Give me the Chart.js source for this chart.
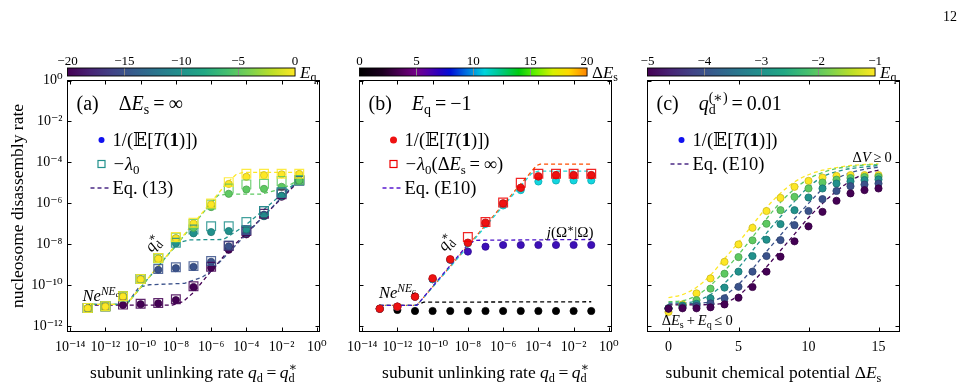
<!DOCTYPE html>
<html>
<head>
<meta charset="utf-8">
<title>nucleosome disassembly rate</title>
<script src="https://cdn.jsdelivr.net/npm/chart.js@4.4.1/dist/chart.umd.min.js"></script>
<style>
  body { margin: 0; background: #fff; }
  #fig { position: relative; width: 967px; height: 386px; overflow: hidden; background: #fff; }
  #fig canvas { position: absolute; top: 0; }
</style>
</head>
<body>
<div id="fig">
  <canvas id="panelA" width="340" height="386" style="left:0px"></canvas>
  <canvas id="panelB" width="300" height="386" style="left:330px"></canvas>
  <canvas id="panelC" width="337" height="386" style="left:630px"></canvas>
</div>
<script>
// values; rates are written as powers of ten (log10 of the rate)

// ---------- (a)  Delta E_s = infinity, one series per E_q ----------
const qA = [-13, -12, -11, -10, -9, -8, -7, -6, -5, -4, -3, -2, -1];   // log10 q_d
const eqA = [-20, -15, -10, -5, 0];

const invT_A_m20 = [-11.12, -11.04, -10.96, -10.92, -10.88, -10.72, -10.08, -9.14, -8.26, -7.51, -6.62, -5.67, -4.90];
const invT_A_m15 = [-11.12, -11.04, -10.55, -9.71, -9.24, -9.16, -9.10, -8.85, -8.10, -7.44, -6.55, -5.62, -4.90];
const invT_A_m10 = [-11.12, -11.04, -10.55, -9.71, -8.70, -7.95, -7.46, -7.40, -7.35, -7.27, -6.62, -5.64, -4.90];
const invT_A_m5  = [-11.12, -11.04, -10.55, -9.71, -8.70, -7.70, -7.19, -6.18, -5.53, -5.32, -5.29, -5.19, -4.88];
const invT_A_0   = [-11.12, -11.04, -10.55, -9.71, -8.70, -7.70, -6.98, -6.05, -5.05, -4.70, -4.62, -4.58, -4.56];

const lam_A_m20 = [-11.10, -11.02, -10.94, -10.90, -10.86, -10.68, -10.04, -9.09, -8.08, -7.35, -6.50, -5.55, -4.88];
const lam_A_m15 = [-11.10, -11.02, -10.53, -9.69, -9.20, -9.12, -9.06, -8.81, -8.05, -7.30, -6.37, -5.47, -4.87];
const lam_A_m10 = [-11.10, -11.02, -10.53, -9.69, -8.68, -7.92, -7.27, -7.11, -7.11, -6.91, -6.37, -5.45, -4.88];
const lam_A_m5  = [-11.10, -11.02, -10.53, -9.69, -8.68, -7.67, -7.00, -6.05, -5.27, -5.07, -5.04, -4.91, -4.85];
const lam_A_0   = [-11.10, -11.02, -10.53, -9.69, -8.66, -7.64, -6.94, -6.00, -4.96, -4.55, -4.55, -4.55, -4.55];

// Eq. (13) curves: log10 q_d and log10 rate
const eq13Q_m20 = [-13, -8.2, -7.6, -7.0, -6.0, -5.0, -3.0, -1.0];
const eq13R_m20 = [-10.96, -10.96, -10.80, -10.35, -9.30, -8.30, -6.60, -4.90];
const eq13Q_m15 = [-13, -10.8, -10.1, -9.5, -7.5, -6.5, -6.0, -4.0, -2.0, -1.0];
const eq13R_m15 = [-10.93, -10.93, -10.10, -9.97, -9.90, -9.60, -9.30, -7.50, -5.70, -4.85];
const eq13Q_m10 = [-13, -10.8, -8.4, -7.8, -7.2, -5.3, -4.1, -3.0, -2.0, -1.0];
const eq13R_m10 = [-10.93, -10.93, -8.45, -7.90, -7.78, -7.76, -7.10, -6.30, -5.55, -4.85];
const eq13Q_m5  = [-13, -10.8, -6.2, -5.6, -5.0, -3.2, -2.0, -1.0];
const eq13R_m5  = [-10.93, -10.93, -6.20, -5.60, -5.55, -5.55, -5.30, -4.85];
const eq13Q_0   = [-13, -10.8, -5.1, -4.6, -4.2, -1.0];
const eq13R_0   = [-10.93, -10.93, -5.00, -4.60, -4.48, -4.48];

// ---------- (b)  E_q = -1, one series per Delta E_s ----------
const qB = [-13, -12, -11, -10, -9, -8, -7, -6, -5, -4, -3, -2, -1];
const invT_B_0    = [-11.14, -11.20, -11.25, -11.25, -11.25, -11.25, -11.25, -11.25, -11.25, -11.25, -11.25, -11.25, -11.25];
const invT_B_7    = [-11.14, -11.04, -10.55, -9.70, -8.75, -8.35, -8.11, -8.03, -8.03, -8.03, -8.03, -8.03, -8.03];
const invT_B_11   = [-11.14, -11.04, -10.55, -9.70, -8.75, -7.95, -7.00, -6.10, -5.35, -4.93, -4.88, -4.88, -4.88];
const invT_B_inf  = [-11.14, -11.04, -10.55, -9.66, -8.73, -7.92, -6.94, -6.00, -5.24, -4.68, -4.62, -4.62, -4.62];
const lam_B_inf   = [null, null, null, null, null, -7.64, -6.91, -5.96, -4.99, -4.55, -4.55, -4.55, -4.55];

// Eq. (E10) curves for panel (b)
const e10Q_B0   = [-13, -11.0, -10.5, -1.0];
const e10R_B0   = [-10.98, -10.98, -10.82, -10.80];
const e10Q_B7   = [-13, -10.9, -8.1, -7.6, -1.0];
const e10R_B7   = [-10.98, -10.98, -8.10, -7.80, -7.76];
const e10Q_B11  = [-13, -10.9, -4.4, -4.0, -1.0];
const e10R_B11  = [-10.98, -10.98, -4.55, -4.42, -4.42];
const e10Q_Binf = [-13, -10.9, -4.1, -3.9, -1.0];
const e10R_Binf = [-10.98, -10.98, -4.15, -4.08, -4.08];

// ---------- (c)  q_d = 0.01, one series per E_q ----------
const dEs = [0, 1, 2, 3, 4, 5, 6, 7, 8, 9, 10, 11, 12, 13, 14, 15];
const eqC = [-5, -4, -3, -2, -1];
const invT_C_m5 = [-11.14, -11.12, -11.12, -11.07, -10.93, -10.60, -10.08, -9.33, -8.60, -7.85, -7.12, -6.41, -5.87, -5.51, -5.35, -5.27];
const invT_C_m4 = [-11.12, -11.07, -11.01, -10.88, -10.63, -10.07, -9.33, -8.57, -7.79, -7.06, -6.37, -5.79, -5.39, -5.16, -5.08, -5.03];
const invT_C_m3 = [-11.12, -11.00, -10.90, -10.63, -10.11, -9.33, -8.57, -7.77, -7.01, -6.33, -5.71, -5.27, -5.03, -4.92, -4.86, -4.83];
const invT_C_m2 = [-11.12, -10.98, -10.72, -10.16, -9.43, -8.62, -7.80, -6.99, -6.33, -5.68, -5.27, -4.98, -4.84, -4.76, -4.71, -4.70];
const invT_C_m1 = [-11.30, -10.93, -10.39, -9.66, -8.85, -8.00, -7.19, -6.37, -5.73, -5.19, -4.90, -4.74, -4.66, -4.62, -4.62, -4.62];

const e10_C_m5 = [-10.95, -10.95, -10.95, -10.93, -10.85, -10.50, -9.85, -9.10, -8.30, -7.50, -6.70, -6.00, -5.40, -4.90, -4.55, -4.37];
const e10_C_m4 = [-10.90, -10.90, -10.88, -10.80, -10.50, -9.95, -9.20, -8.35, -7.55, -6.75, -6.00, -5.30, -4.80, -4.50, -4.33, -4.23];
const e10_C_m3 = [-10.85, -10.85, -10.75, -10.45, -9.90, -9.15, -8.30, -7.45, -6.65, -5.90, -5.20, -4.70, -4.45, -4.30, -4.22, -4.15];
const e10_C_m2 = [-10.80, -10.75, -10.50, -10.00, -9.30, -8.50, -7.65, -6.75, -5.95, -5.30, -4.80, -4.50, -4.30, -4.20, -4.13, -4.10];
const e10_C_m1 = [-10.60, -10.45, -10.10, -9.50, -8.70, -7.90, -7.05, -6.20, -5.50, -4.95, -4.60, -4.38, -4.25, -4.15, -4.10, -4.07];

// axis ticks
const xTicksLog = [1e-14, 1e-12, 1e-10, 1e-8, 1e-6, 1e-4, 1e-2, 1];
const xTicksC = [0, 5, 10, 15];
const yTicks = [1, 1e-2, 1e-4, 1e-6, 1e-8, 1e-10, 1e-12];
const cbTicksA = [-20, -15, -10, -5, 0];
const cbTicksB = [0, 5, 10, 15, 20];
const cbTicksC = [-5, -4, -3, -2, -1];

// ---------- styling ----------
const SERIF = '"Liberation Serif", "DejaVu Serif", serif';
const VIRIDIS = [[0, '#440154'], [0.1, '#482475'], [0.2, '#414487'], [0.3, '#355f8d'], [0.4, '#2a788e'],
  [0.5, '#21918c'], [0.6, '#22a884'], [0.7, '#44bf70'], [0.8, '#7ad151'], [0.9, '#bddf26'], [1, '#fde725']];
const SPECTRAL = [[0, '#000000'], [0.1, '#1c0020'], [0.2, '#5a0066'], [0.25, '#74008a'], [0.3, '#5200a8'],
  [0.35, '#2a00c0'], [0.4, '#0010d8'], [0.47, '#0070e0'], [0.55, '#00d4dc'], [0.62, '#00c888'], [0.7, '#00cc10'],
  [0.77, '#60f000'], [0.85, '#d8f000'], [0.92, '#ffd800'], [1, '#ff8400']];
const colorsA = ['#440154', '#3b528b', '#21918c', '#5ec962', '#fde725'];
const colorsC = ['#440154', '#3b528b', '#21918c', '#5ec962', '#fde725'];

Chart.defaults.font.family = SERIF;
Chart.defaults.color = '#000';

function shade(hex, f) {
  const n = parseInt(hex.slice(1), 16);
  const c = [n >> 16, (n >> 8) & 255, n & 255].map(v => Math.round(v * f));
  return 'rgb(' + c.join(',') + ')';
}
function alpha(hex, a) {
  const n = parseInt(hex.slice(1), 16);
  return 'rgba(' + (n >> 16) + ',' + ((n >> 8) & 255) + ',' + (n & 255) + ',' + a + ')';
}
const logPts = (xs, ys) => xs.map((x, i) => ys[i] === null ? null : {x: 10 ** x, y: 10 ** ys[i]}).filter(p => p);
const linPts = (xs, ys) => xs.map((x, i) => ({x: x, y: 10 ** ys[i]}));

function lineDs(data, color, order, extra) {
  return Object.assign({data, showLine: true, pointRadius: 0, borderColor: color, borderWidth: 1.3,
    borderDash: [4, 3], fill: false, order}, extra || {});
}
function dotDs(data, color, order, r) {
  return {data, pointStyle: 'circle', pointRadius: r || 3.6, backgroundColor: color,
    borderColor: shade(color, 0.8), borderWidth: 0.8, showLine: false, order};
}
function boxDs(data, color, order) {
  return {data, pointStyle: 'rect', pointRadius: 6.2, backgroundColor: 'rgba(0,0,0,0)',
    borderColor: alpha(color, 0.85), borderWidth: 1.2, showLine: false, order};
}

const SUP = {'-': '\u207B', '0': '\u2070', '1': '\u00B9', '2': '\u00B2', '3': '\u00B3', '4': '\u2074',
  '5': '\u2075', '6': '\u2076', '7': '\u2077', '8': '\u2078', '9': '\u2079'};
const powLabel = v => '10' + String(Math.round(Math.log10(v))).replace(/./g, c => SUP[c]);

// ---------- rich text (italic, sub/superscripts) ----------
function fontFor(f, size) {
  return (f.includes('i') ? 'italic ' : '') + (f.includes('b') ? 'bold ' : '') + size + 'px ' + SERIF;
}
function layoutRich(ctx, parts, size) {
  let w = 0;
  const items = [];
  for (const [t, f = ''] of parts) {
    if (f.includes('S')) {
      const [sup, sub] = t.split('|');
      const fs = size * 0.7;
      ctx.font = fontFor(f, fs);
      items.push({stack: true, sup, sub, x: w, fs, f});
      w += Math.max(ctx.measureText(sup).width, ctx.measureText(sub).width);
    } else {
      let fs = size, dy = 0;
      if (f.includes('_')) { fs = size * 0.7; dy = size * 0.22; }
      if (f.includes('^')) { fs = size * 0.7; dy = -size * 0.38; }
      if (f.includes('v')) { fs = size * 0.5; dy = -size * 0.24; }
      ctx.font = fontFor(f, fs);
      items.push({t, x: w, fs, dy, f});
      w += ctx.measureText(t).width;
    }
  }
  return {items, w};
}
function drawRich(ctx, parts, x, y, size, align) {
  ctx.save();
  ctx.fillStyle = '#000';
  ctx.textAlign = 'left';
  ctx.textBaseline = 'alphabetic';
  const {items, w} = layoutRich(ctx, parts, size);
  const x0 = align === 'center' ? x - w / 2 : align === 'right' ? x - w : x;
  const base = y + size * 0.33;
  for (const it of items) {
    ctx.font = fontFor(it.f, it.fs);
    if (it.stack) {
      ctx.fillText(it.sup, x0 + it.x, base - size * 0.4);
      ctx.fillText(it.sub, x0 + it.x, base + size * 0.24);
    } else {
      ctx.fillText(it.t, x0 + it.x, base + it.dy);
    }
  }
  ctx.restore();
}

// ---------- frame, inward ticks, colorbar, legend, labels ----------
const decor = {
  id: 'decor',
  afterDatasetsDraw(chart) {
    const {ctx, chartArea: a, scales: {x, y}} = chart;
    ctx.save();
    ctx.strokeStyle = '#000';
    ctx.lineWidth = 1;
    ctx.beginPath();
    x.ticks.forEach(t => {
      const p = Math.round(x.getPixelForValue(t.value)) + 0.5;
      ctx.moveTo(p, a.bottom); ctx.lineTo(p, a.bottom - 4);
      ctx.moveTo(p, a.top); ctx.lineTo(p, a.top + 4);
    });
    y.ticks.forEach(t => {
      const p = Math.round(y.getPixelForValue(t.value)) + 0.5;
      ctx.moveTo(a.left, p); ctx.lineTo(a.left + 4, p);
      ctx.moveTo(a.right, p); ctx.lineTo(a.right - 4, p);
    });
    ctx.stroke();
    ctx.strokeRect(a.left, a.top, a.right - a.left, a.bottom - a.top);
    ctx.restore();
  },
  afterDraw(chart, args, o) {
    const {ctx, chartArea: a, scales: {x, y}} = chart;
    const w = a.right - a.left;

    // colorbar above the panel
    const cb = o.colorbar;
    const cx0 = a.left, cx1 = a.left + w * 0.903, cy0 = 68, cy1 = 76;
    const g = ctx.createLinearGradient(cx0, 0, cx1, 0);
    cb.stops.forEach(([p, c]) => g.addColorStop(p, c));
    ctx.save();
    ctx.fillStyle = g;
    ctx.fillRect(cx0, cy0, cx1 - cx0, cy1 - cy0);
    const lo = cb.ticks[0], hi = cb.ticks[cb.ticks.length - 1];
    ctx.strokeStyle = '#8a8a8a';
    ctx.lineWidth = 1;
    ctx.beginPath();
    cb.ticks.slice(1, -1).forEach(v => {
      const p = Math.round(cx0 + (v - lo) / (hi - lo) * (cx1 - cx0)) + 0.5;
      ctx.moveTo(p, cy0); ctx.lineTo(p, cy1);
    });
    ctx.stroke();
    ctx.strokeStyle = '#000';
    ctx.lineWidth = 0.9;
    ctx.strokeRect(cx0, cy0, cx1 - cx0, cy1 - cy0);
    ctx.fillStyle = '#000';
    ctx.font = '13px ' + SERIF;
    ctx.textAlign = 'center';
    ctx.textBaseline = 'alphabetic';
    cb.ticks.forEach(v => {
      const p = cx0 + (v - lo) / (hi - lo) * (cx1 - cx0);
      ctx.fillText(String(v).replace('-', '\u2212'), p, 65);
    });
    ctx.restore();
    drawRich(ctx, cb.label, cx1 + 5, 72, 17, 'left');

    // panel title
    drawRich(ctx, o.title, a.left + 9, 103, 20, 'left');

    // legend
    const lx = a.left;
    o.legend.forEach((row, i) => {
      const ly = 140 + i * 24;
      ctx.save();
      if (row.kind === 'dot') {
        ctx.fillStyle = row.color;
        ctx.beginPath(); ctx.arc(lx + 34, ly, row.r || 3, 0, Math.PI * 2); ctx.fill();
      } else if (row.kind === 'box') {
        ctx.strokeStyle = row.color; ctx.lineWidth = 1.2;
        ctx.strokeRect(lx + 30.5, ly - 3.5, 7, 7);
      } else {
        ctx.strokeStyle = row.color; ctx.lineWidth = 1.3; ctx.setLineDash([4, 3]);
        ctx.beginPath(); ctx.moveTo(lx + 23, ly); ctx.lineTo(lx + 44, ly); ctx.stroke();
      }
      ctx.restore();
      drawRich(ctx, row.text, lx + 45, ly, 18.5, 'left');
    });

    // annotations placed in data coordinates
    (o.notes || []).forEach(n => {
      const px = x.getPixelForValue(n.x), py = y.getPixelForValue(n.y);
      if (n.slope) {
        const dx = x.getPixelForValue(n.slope[1]) - x.getPixelForValue(n.slope[0]);
        const dy = y.getPixelForValue(n.slope[1]) - y.getPixelForValue(n.slope[0]);
        ctx.save();
        ctx.translate(px, py);
        ctx.rotate(Math.atan2(dy, dx));
        drawRich(ctx, n.text, 0, 0, n.size, 'center');
        ctx.restore();
      } else {
        drawRich(ctx, n.text, px, py, n.size, 'center');
      }
    });

    // x axis title
    drawRich(ctx, o.xTitle, (a.left + a.right) / 2, 372, 17.5, 'center');

    if (o.page) {
      ctx.save();
      ctx.font = '14px ' + SERIF;
      ctx.fillStyle = '#000';
      ctx.textAlign = 'right';
      ctx.fillText(o.page, 327, 21);
      ctx.restore();
    }
  }
};
Chart.register(decor);

function yScale(width, labels, title) {
  return {
    type: 'logarithmic', min: 5.6e-13, max: 1,
    afterBuildTicks: s => { s.ticks = yTicks.map(v => ({value: v})); },
    afterFit: s => { s.width = width; },
    grid: {display: false, drawTicks: false}, border: {display: false},
    ticks: {display: labels, callback: v => powLabel(v), font: {family: SERIF, size: 14}, color: '#000', padding: 5},
    title: title ? {display: true, text: title, font: {family: SERIF, size: 17.5}, color: '#000', padding: {top: 7.5, bottom: 0}}
                 : {display: false}
  };
}
function xLogScale() {
  return {
    type: 'logarithmic', min: 7.1e-15, max: 1.41,
    afterBuildTicks: s => { s.ticks = xTicksLog.map(v => ({value: v})); },
    afterFit: s => { s.height = 54.5; },
    grid: {display: false, drawTicks: false}, border: {display: false},
    ticks: {callback: v => powLabel(v), font: {family: SERIF, size: 14}, color: '#000', padding: 7,
      maxRotation: 0, autoSkip: false}
  };
}
function baseOptions(padding, scales, decorOpts) {
  return {
    responsive: false, animation: false, events: [],
    layout: {padding, autoPadding: false},
    scales,
    plugins: {legend: {display: false}, tooltip: {enabled: false}, decor: decorOpts}
  };
}

const ONE_OVER_T = [['1/(', ''], ['\uD835\uDD3C', ''], ['[', ''], ['T', 'i'], ['(', ''], ['1', 'b'], [')])', '']];
const QD_STAR = [['q', 'i'], ['\u2217|d', 'S']];
const NE_C = [['Ne', 'i'], ['NE', 'i^'], ['c', 'iv']];

// ---------- panel (a) ----------
const invT_A = [invT_A_m20, invT_A_m15, invT_A_m10, invT_A_m5, invT_A_0];
const lam_A = [lam_A_m20, lam_A_m15, lam_A_m10, lam_A_m5, lam_A_0];
const eq13Q = [eq13Q_m20, eq13Q_m15, eq13Q_m10, eq13Q_m5, eq13Q_0];
const eq13R = [eq13R_m20, eq13R_m15, eq13R_m10, eq13R_m5, eq13R_0];
const dsA = [];
eqA.forEach((e, i) => {
  dsA.push(lineDs(logPts(eq13Q[i], eq13R[i]), colorsA[i], 300 - i, {borderDashOffset: i * 1.2}));
  dsA.push(dotDs(logPts(qA, invT_A[i]), colorsA[i], 200 - i));
  dsA.push(boxDs(logPts(qA, lam_A[i]), colorsA[i], 100 - i));
});
new Chart(document.getElementById('panelA'), {
  type: 'scatter',
  data: {datasets: dsA},
  options: baseOptions({left: 0, right: 20.5, top: 80.5, bottom: 0},
    {x: xLogScale(), y: yScale(67.5, true, 'nucleosome disassembly rate')},
    {
      colorbar: {stops: VIRIDIS, ticks: cbTicksA, label: [['E', 'i'], ['q', '_']]},
      title: [['(a)\u2003', ''], ['\u0394', ''], ['E', 'i'], ['s', '_'], ['\u2009=\u2009\u221E', '']],
      legend: [
        {kind: 'dot', color: '#1010f0', r: 3, text: ONE_OVER_T},
        {kind: 'box', color: '#21918c', text: [['\u2212\u03BB', 'i'], ['0', '_']]},
        {kind: 'dash', color: '#4b2a85', text: [['Eq. (13)', '']]}
      ],
      notes: [
        {x: 10 ** -12.25, y: 10 ** -10.5, text: NE_C, size: 16.5},
        {x: 10 ** -9.3, y: 10 ** -7.95, text: QD_STAR, size: 16, slope: [1e-10, 1e-9]}
      ],
      xTitle: [['subunit unlinking rate ', ''], ['q', 'i'], ['d', '_'], ['\u2009=\u2009', ''], ['q', 'i'], ['\u2217|d', 'S']]
    })
});

// ---------- panel (b) ----------
const colB = {d0: '#000000', d7: '#3d0fb8', d11: '#12d6e0', inf: '#ee1111'};
const dsB = [
  lineDs(logPts(e10Q_B0, e10R_B0), '#000000', 304),
  lineDs(logPts(e10Q_B7, e10R_B7), '#4a10c8', 301, {borderDashOffset: 0}),
  lineDs(logPts(e10Q_B11, e10R_B11), '#20d8d8', 302, {borderDashOffset: 1}),
  lineDs(logPts(e10Q_Binf, e10R_Binf), '#ff4d00', 303, {borderDashOffset: 2}),
  dotDs(logPts(qB, invT_B_0), colB.d0, 204),
  dotDs(logPts(qB, invT_B_7), colB.d7, 203),
  dotDs(logPts(qB, invT_B_11), colB.d11, 202),
  dotDs(logPts(qB, invT_B_inf), colB.inf, 201, 3.8),
  boxDs(logPts(qB, lam_B_inf), '#ee0000', 100)
];
new Chart(document.getElementById('panelB'), {
  type: 'scatter',
  data: {datasets: dsB},
  options: baseOptions({left: 0, right: 18.5, top: 80.5, bottom: 0},
    {x: xLogScale(), y: yScale(29.5, false)},
    {
      colorbar: {stops: SPECTRAL, ticks: cbTicksB, label: [['\u0394', ''], ['E', 'i'], ['s', '_']]},
      title: [['(b)\u2003', ''], ['E', 'i'], ['q', '_'], ['\u2009=\u2009\u22121', '']],
      legend: [
        {kind: 'dot', color: '#ee1111', r: 3.5, text: ONE_OVER_T},
        {kind: 'box', color: '#ee0000', text: [['\u2212\u03BB', 'i'], ['0', '_'], ['(\u0394', ''], ['E', 'i'], ['s', '_'], ['\u2009=\u2009\u221E)', '']]},
        {kind: 'dash', color: '#5a1ad0', text: [['Eq. (E10)', '']]}
      ],
      notes: [
        {x: 10 ** -12.0, y: 10 ** -10.35, text: NE_C, size: 16.5},
        {x: 10 ** -9.25, y: 10 ** -7.9, text: QD_STAR, size: 16, slope: [1e-10, 1e-9]},
        {x: 10 ** -2.2, y: 10 ** -7.42, text: [['j', 'i'], ['(\u03A9', ''], ['\u2217', '^'], ['|\u03A9)', '']], size: 15}
      ],
      xTitle: [['subunit unlinking rate ', ''], ['q', 'i'], ['d', '_'], ['\u2009=\u2009', ''], ['q', 'i'], ['\u2217|d', 'S']]
    })
});

// ---------- panel (c) ----------
const invT_C = [invT_C_m5, invT_C_m4, invT_C_m3, invT_C_m2, invT_C_m1];
const e10_C = [e10_C_m5, e10_C_m4, e10_C_m3, e10_C_m2, e10_C_m1];
const dsC = [];
eqC.forEach((e, i) => {
  dsC.push(lineDs(linPts(dEs, e10_C[i]), colorsC[i], 300 + i, {cubicInterpolationMode: 'monotone'}));
  dsC.push(dotDs(linPts(dEs, invT_C[i]), colorsC[i], 200 + i));
});
new Chart(document.getElementById('panelC'), {
  type: 'scatter',
  data: {datasets: dsC},
  options: baseOptions({left: 0, right: 67.5, top: 80.5, bottom: 0},
    {
      x: {
        type: 'linear', min: -1.5, max: 16.5,
        afterBuildTicks: s => { s.ticks = xTicksC.map(v => ({value: v})); },
        afterFit: s => { s.height = 54.5; },
        grid: {display: false, drawTicks: false}, border: {display: false},
        ticks: {font: {family: SERIF, size: 14}, color: '#000', padding: 7, maxRotation: 0}
      },
      y: yScale(17.5, false)
    },
    {
      colorbar: {stops: VIRIDIS, ticks: cbTicksC, label: [['E', 'i'], ['q', '_']]},
      title: [['(c)\u2003', ''], ['q', 'i'], ['(\u2217)|d', 'S'], ['\u2009=\u20090.01', '']],
      legend: [
        {kind: 'dot', color: '#1010f0', r: 3, text: ONE_OVER_T},
        {kind: 'dash', color: '#4b2a85', text: [['Eq. (E10)', '']]}
      ],
      notes: [
        {x: 14.55, y: 10 ** -3.75, text: [['\u0394', ''], ['V', 'i'], ['\u2009\u2265\u20090', '']], size: 14.5},
        {x: 2.05, y: 10 ** -11.7, text: [['\u0394', ''], ['E', 'i'], ['s', '_'], ['\u2009+\u2009', ''], ['E', 'i'], ['q', '_'], ['\u2009\u2264\u20090', '']], size: 14.5}
      ],
      xTitle: [['subunit chemical potential \u0394', ''], ['E', 'i'], ['s', '_']],
      page: '12'
    })
});
</script>
</body>
</html>
